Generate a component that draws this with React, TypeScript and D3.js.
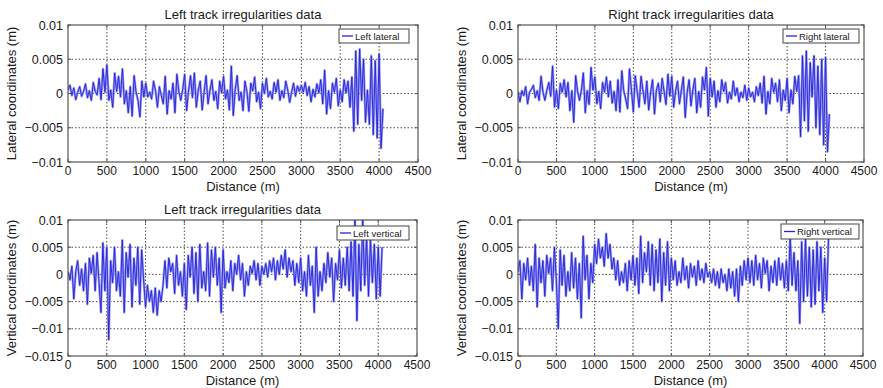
import React from "react";
import * as d3 from "d3";

// Distance axis (m)
const distanceTicks = [0, 500, 1000, 1500, 2000, 2500, 3000, 3500, 4000, 4500];
const sampleStep = 25; // m between samples

// Y ticks expressed in millimetres, labels in metres
const lateralTicks = [-10, -5, 0, 5, 10];
const lateralTickLabels = ["\u22120.01", "\u22120.005", "0", "0.005", "0.01"];
const verticalTicks = [-15, -10, -5, 0, 5, 10];
const verticalTickLabels = ["\u22120.015", "\u22120.01", "\u22120.005", "0", "0.005", "0.01"];

// Irregularity samples (mm), one every 25 m from 0 to 4050 m
const leftLateral = [
  0.5, 1.2, -0.3, 0.8, -0.9, 0.2, 1.0, -0.4, 0.3, 1.4, -0.6, 0.4, -1.0, 1.6, 0.3, -0.2, 2.2, -0.9, 3.6, 0.2,
  4.2, -1.0, 0.5, -2.0, 3.0, 0.3, 2.5, -0.5, 3.6, -1.5, 0.4, -2.8, 1.0, -3.3, 2.6, 0.2, -1.0, -3.4, 1.8, -0.5,
  1.5, -0.5, 0.2, -0.8, 1.8, 0.4, -2.0, 1.0, -0.3, -1.5, 2.5, -3.0, 0.4, -0.8, 1.5, -2.8, 2.8, 0.3, -1.0, 0.6,
  2.8, -2.5, 0.4, 2.6, -0.6, 3.0, -2.0, 0.5, 1.8, -2.4, 0.2, 2.6, -1.5, 0.4, 2.0, -1.0, 0.3, -2.2, 1.8, 0.1,
  2.5, -0.8, 0.5, -2.4, 4.0, -3.2, 0.6, 2.6, -1.0, 0.2, -2.5, 1.8, 0.3, -2.6, 1.5, 0.4, 2.4, -1.2, 0.2, -2.2,
  1.5, 0.0, 2.2, -0.5, 0.3, -0.8, 1.6, 0.2, 2.0, -1.0, 0.4, -0.6, 1.8, 0.5, -1.3, 0.2, 1.5, -0.4, 1.1, 0.3,
  1.2, 0.2, 1.6, -0.3, 1.0, -1.2, 0.6, -0.5, 1.4, 0.1, 2.0, -1.5, 3.4, -3.0, 0.4, -2.2, 1.5, 0.2, 2.2, -1.8,
  0.5, -1.2, 2.0, 0.1, 1.8, -2.0, 2.4, -5.5, 6.2, -4.5, 6.5, -1.0, 5.0, -4.2, 0.5, -4.5, 5.5, -6.0, 4.8, -6.5,
  5.8, -8.0, -2.2,
];

const rightLateral = [
  0.3, -1.2, 0.4, -0.3, 1.0, -1.5, 0.2, 0.6, 1.2, -0.6, 0.4, -1.0, 2.5, 0.2, -1.0, 0.5, 1.6, -0.4, 4.0, -2.0,
  0.5, -2.2, 1.5, 0.2, 2.0, -0.5, 1.6, -2.5, 0.4, -4.2, 2.6, 0.3, -1.0, 0.5, 3.0, -2.8, 0.4, -1.6, 3.8, 0.5,
  2.4, -1.5, 0.3, -2.2, 1.6, 0.2, 2.4, -0.5, 1.8, -1.4, 0.3, -2.5, 2.0, -2.7, 3.3, 0.4, -0.8, -2.2, 3.6, 0.5,
  -2.7, 2.6, 0.3, -2.0, 2.5, 0.5, -1.5, 1.8, -2.4, 0.2, 2.0, -3.0, 0.5, 1.5, -1.2, 2.2, 0.3, -1.6, 2.8, -0.4,
  2.5, -2.0, 0.4, 1.8, -1.5, 0.5, 2.4, -3.5, 0.2, 2.0, -1.8, 0.6, 2.2, -2.8, 0.3, -2.0, 2.4, 0.5, 3.8, -3.3,
  2.2, -0.5, 1.8, -2.0, 0.4, -1.2, 2.0, 0.3, 1.6, -1.4, 0.2, -0.8, 1.8, -0.3, 0.8, -1.2, 0.2, -0.6, 1.2, -1.0,
  0.8, -0.5, 0.2, -1.2, 1.0, -0.3, 1.5, -1.4, 2.5, -3.0, 0.3, -1.5, 2.2, 0.2, 1.5, -1.2, 2.0, -2.5, 0.5, -1.0,
  2.2, -2.8, 0.5, -1.5, 2.5, 0.3, 2.6, -6.3, 5.5, -4.0, 6.2, -5.5, 4.5, -0.5, 5.5, -5.0, 4.0, -6.0, 5.0, -7.5,
  5.3, -8.5, -3.0,
];

const leftVertical = [
  0.5, -1.0, 1.5, -4.5, 0.5, 2.5, -2.0, 1.0, -3.0, 2.0, -5.5, 3.0, 0.2, 3.5, -3.0, 4.0, -1.5, -7.0, 5.8, -3.0,
  5.0, -12.0, 2.5, -1.5, 5.0, -3.0, 0.5, -4.0, 6.3, -7.0, 4.0, -0.5, 5.5, -6.0, 3.0, -2.0, 5.0, -5.5, 4.5, -1.0,
  -6.0, -2.0, -5.0, -3.0, -7.0, -2.5, -7.5, -3.0, -5.0, -2.0, 2.5, -2.5, 3.0, 0.5, 2.0, -3.5, 3.5, -2.0, 0.5, -4.0,
  2.0, -6.5, 3.5, -0.5, 5.0, -3.5, 4.0, -5.0, 5.5, -2.5, 0.5, -3.0, 5.8, -4.0, 4.5, -0.5, 5.0, -2.0, 3.0, -7.0,
  4.5, -2.5, 0.5, -1.5, 2.5, -3.0, 2.0, 0.0, 3.5, -1.0, 2.0, -4.0, 0.5, -2.0, 1.5, 0.2, 2.5, -1.0, 2.0, -2.0,
  1.5, 0.0, 2.0, -0.5, 2.5, 0.5, 3.0, -1.0, 2.5, 0.0, 3.5, 1.0, 4.5, -0.5, 3.0, 0.5, 2.5, -2.0, 2.0, -1.5,
  3.0, -3.0, 0.5, -4.0, 3.5, -2.0, 1.5, -7.0, 5.0, -4.0, 0.5, -3.0, 2.0, -1.5, 4.0, -0.5, 3.0, -5.0, 2.0, -1.0,
  4.5, -2.5, 3.0, -2.0, 5.0, -3.0, 6.0, -4.0, 10.0, -8.5, 5.5, -3.0, 10.0, -2.0, 7.0, -4.0, 6.5, -1.5, 5.5, -4.5,
  5.0, -4.0, 5.0,
];

const rightVertical = [
  0.5, 2.5, -4.5, 2.0, -1.0, 3.0, -2.0, 1.5, -3.0, 5.5, -6.0, 3.0, -1.5, 2.5, -4.0, 3.5, 0.2, 3.0, -3.0, 5.0,
  -1.0, -10.0, 4.5, -2.0, 3.5, -4.0, 0.5, -3.0, 4.0, -2.5, 3.0, -4.5, 2.0, -8.0, 7.0, -1.0, 3.5, -4.5, 2.0, -1.5,
  5.5, 2.0, 6.5, 3.0, 5.0, 1.5, 7.5, 3.0, 5.5, 1.0, 3.0, -1.0, 2.5, -2.0, 0.5, -1.5, 2.0, -3.0, 2.5, -1.0,
  3.5, -2.0, 3.0, -3.5, 7.0, -1.5, 4.0, 0.5, 6.0, -2.0, 5.5, -3.0, 4.5, -1.5, 6.5, -5.0, 4.0, -2.0, 6.0, -3.0,
  3.0, -1.0, 2.5, -2.0, 0.5, -1.5, 3.0, -1.0, 1.5, -2.5, 2.0, -0.5, 1.5, -2.0, 2.5, -1.0, 1.0, -1.5, 2.0, -0.5,
  0.5, -1.5, 1.0, -2.0, 0.5, -2.5, 1.0, -1.5, 0.0, -3.0, 1.0, -2.5, 0.5, -4.0, 1.0, -5.0, 1.5, -2.0, 2.5, -1.0,
  3.0, -1.5, 2.5, -2.0, 3.5, -1.0, 2.0, -2.5, 3.0, 0.2, 2.5, -3.0, 1.5, -1.5, 2.5, -2.0, 3.0, -1.0, 2.0, -2.5,
  2.5, -3.0, 7.0, -2.0, 4.0, -3.0, 2.5, -9.0, 6.0, -5.0, 6.5, -4.0, 5.0, -6.0, 4.5, -5.5, 6.0, -3.0, 5.0, -7.0,
  3.0, -5.0, 6.5,
];

type Panel = {
  x0: number; x1: number; y0: number; y1: number;
  title: string | null; ylabel: string; legend: string;
  data: number[]; yTicks: number[]; yLabels: string[];
  leg: [number, number, number, number];
};

const FONT = "'Liberation Sans', Arial, sans-serif";

const panels: Panel[] = [
  { x0: 68, x1: 418, y0: 25, y1: 162, title: "Left track irregularities data", ylabel: "Lateral coordinates (m)", legend: "Left lateral", data: leftLateral, yTicks: lateralTicks, yLabels: lateralTickLabels, leg: [339, 29, 409, 43] },
  { x0: 518, x1: 864, y0: 25, y1: 162, title: "Right track irregularities data", ylabel: "Lateral coordinates (m)", legend: "Right lateral", data: rightLateral, yTicks: lateralTicks, yLabels: lateralTickLabels, leg: [783, 29, 859, 43] },
  { x0: 68, x1: 417, y0: 220, y1: 356, title: "Left track irregularities data", ylabel: "Vertical coordinates (m)", legend: "Left vertical", data: leftVertical, yTicks: verticalTicks, yLabels: verticalTickLabels, leg: [337, 226, 409, 240] },
  { x0: 518, x1: 863, y0: 220, y1: 356, title: null, ylabel: "Vertical coordinates (m)", legend: "Right vertical", data: rightVertical, yTicks: verticalTicks, yLabels: verticalTickLabels, leg: [781, 224, 859, 239] },
];

function PanelView({ p, idx }: { p: Panel; idx: number }) {
  const x = d3.scaleLinear().domain([0, 4500]).range([p.x0, p.x1]);
  const y = d3.scaleLinear().domain([p.yTicks[0], p.yTicks[p.yTicks.length - 1]]).range([p.y1, p.y0]);
  const pts: [number, number][] = p.data.map((v, i) => [i * sampleStep, v]);
  const line = d3.line<[number, number]>().x((d) => x(d[0])).y((d) => y(d[1]));
  const path = line(pts) || "";
  const clipId = `clip${idx}`;
  const cx = (p.x0 + p.x1) / 2;
  return (
    <g>
      <defs>
        <clipPath id={clipId}>
          <rect x={p.x0} y={p.y0} width={p.x1 - p.x0} height={p.y1 - p.y0} />
        </clipPath>
      </defs>
      <rect x={p.x0} y={p.y0} width={p.x1 - p.x0} height={p.y1 - p.y0} fill="#fff" />
      {distanceTicks.slice(1, -1).map((t) => (
        <line key={"gx" + t} x1={x(t)} x2={x(t)} y1={p.y0} y2={p.y1} stroke="#333" strokeWidth={0.9} strokeDasharray="1.5,2" />
      ))}
      {p.yTicks.slice(1, -1).map((t) => (
        <line key={"gy" + t} x1={p.x0} x2={p.x1} y1={y(t)} y2={y(t)} stroke="#333" strokeWidth={0.9} strokeDasharray="1.5,2" />
      ))}
      <g clipPath={`url(#${clipId})`}>
        <path d={path} fill="none" stroke="#9a9af2" strokeWidth={2.4} strokeLinejoin="round" />
        <path d={path} fill="none" stroke="#2323d6" strokeWidth={0.9} strokeLinejoin="round" />
      </g>
      <rect x={p.x0} y={p.y0} width={p.x1 - p.x0} height={p.y1 - p.y0} fill="none" stroke="#555" strokeWidth={1.2} />
      {distanceTicks.map((t) => (
        <g key={"tx" + t}>
          <line x1={x(t)} x2={x(t)} y1={p.y1} y2={p.y1 - 3} stroke="#555" />
          <line x1={x(t)} x2={x(t)} y1={p.y0} y2={p.y0 + 3} stroke="#555" />
          <text x={x(t)} y={p.y1 + 13} textAnchor="middle" fontSize={12} fill="#1a1a1a" fontFamily={FONT}>{t}</text>
        </g>
      ))}
      {p.yTicks.map((t, i) => (
        <g key={"ty" + t}>
          <line x1={p.x0} x2={p.x0 + 3} y1={y(t)} y2={y(t)} stroke="#555" />
          <line x1={p.x1} x2={p.x1 - 3} y1={y(t)} y2={y(t)} stroke="#555" />
          <text x={p.x0 - 5} y={y(t) + 4.5} textAnchor="end" fontSize={12.5} fill="#1a1a1a" fontFamily={FONT}>{p.yLabels[i]}</text>
        </g>
      ))}
      {p.title && (
        <text x={cx} y={p.y0 - 6} textAnchor="middle" fontSize={13} fill="#1a1a1a" fontFamily={FONT}>{p.title}</text>
      )}
      <text x={cx} y={p.y1 + 28.5} textAnchor="middle" fontSize={13} fill="#1a1a1a" fontFamily={FONT}>Distance (m)</text>
      <text transform={`translate(${p.x0 - 52},${(p.y0 + p.y1) / 2}) rotate(-90)`} textAnchor="middle" fontSize={13} fill="#1a1a1a" fontFamily={FONT}>{p.ylabel}</text>
      <rect x={p.leg[0]} y={p.leg[1]} width={p.leg[2] - p.leg[0]} height={p.leg[3] - p.leg[1]} fill="#fff" stroke="#444" strokeWidth={1} />
      <line x1={p.leg[0] + 3} x2={p.leg[0] + 14} y1={(p.leg[1] + p.leg[3]) / 2} y2={(p.leg[1] + p.leg[3]) / 2} stroke="#2323d6" strokeWidth={1.3} />
      <text x={p.leg[0] + 16} y={(p.leg[1] + p.leg[3]) / 2 + 3.5} fontSize={9.5} fill="#1a1a1a" fontFamily={FONT}>{p.legend}</text>
    </g>
  );
}

export default function App() {
  return (
    <svg width={883} height={388} style={{ position: "absolute", left: 0, top: 0, background: "#fff" }}>
      <rect x={0} y={0} width={883} height={388} fill="#fff" />
      {panels.map((p, i) => (
        <PanelView key={i} p={p} idx={i} />
      ))}
    </svg>
  );
}
